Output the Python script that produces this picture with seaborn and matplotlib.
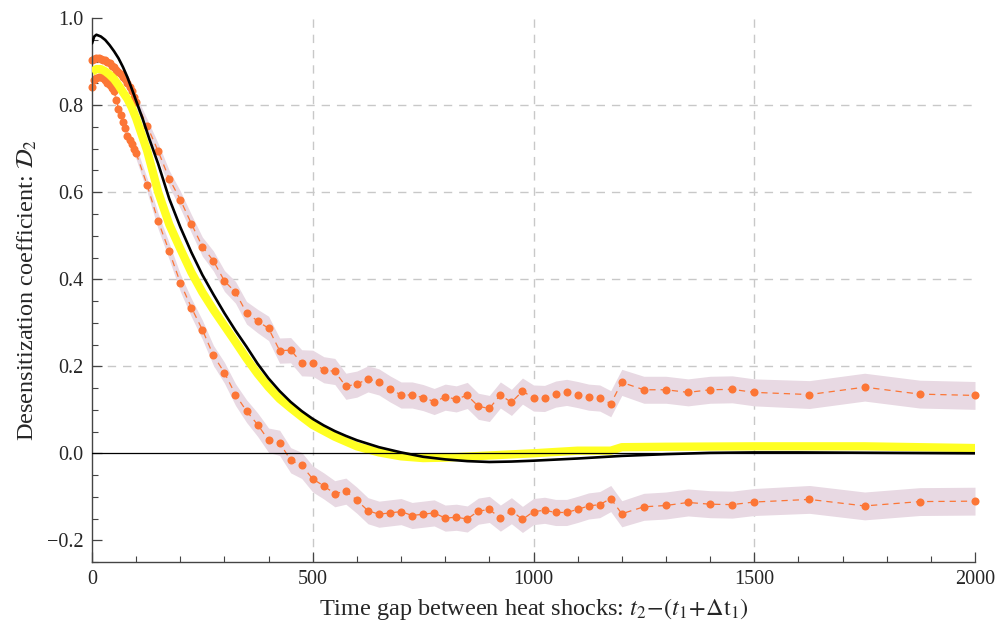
import numpy as np
import pandas as pd
import matplotlib
matplotlib.use("Agg")
import matplotlib.pyplot as plt
from matplotlib.ticker import MultipleLocator, FuncFormatter
import seaborn as sns

# ---------------- data ----------------
t_points = [0, 5, 10, 15, 20, 25, 30, 35, 40, 45, 50, 55, 60, 65, 70, 75, 80, 85, 90, 95, 100,
            125, 150, 175, 200, 225, 250, 275, 300, 325, 350, 375, 400, 425, 450, 475, 500,
            525, 550, 575, 600, 625, 650, 675, 700, 725, 750, 775, 800, 825, 850, 875, 900,
            925, 950, 975, 1000, 1025, 1050, 1075, 1100, 1125, 1150, 1175, 1200,
            1250, 1300, 1350, 1400, 1450, 1500, 1625, 1750, 1875, 2000]

upper_vals = [0.905, 0.907, 0.908, 0.908, 0.907, 0.905, 0.903, 0.900, 0.896, 0.891, 0.887,
              0.882, 0.877, 0.872, 0.866, 0.860, 0.852, 0.843, 0.832, 0.820, 0.808,
              0.752, 0.694, 0.631, 0.583, 0.528, 0.475, 0.442, 0.396, 0.370, 0.323, 0.304,
              0.287, 0.236, 0.237, 0.208, 0.207, 0.192, 0.188, 0.154, 0.159, 0.171, 0.164,
              0.148, 0.134, 0.134, 0.128, 0.119, 0.129, 0.125, 0.133, 0.108, 0.103, 0.134,
              0.117, 0.143, 0.127, 0.126, 0.136, 0.140, 0.135, 0.129, 0.127, 0.114, 0.163,
              0.146, 0.146, 0.140, 0.146, 0.147, 0.140, 0.135, 0.152, 0.136, 0.133]

lower_vals = [0.842, 0.858, 0.863, 0.865, 0.865, 0.862, 0.857, 0.852, 0.846, 0.840, 0.832,
              0.812, 0.792, 0.778, 0.762, 0.747, 0.730, 0.720, 0.712, 0.700, 0.690,
              0.616, 0.533, 0.464, 0.392, 0.335, 0.284, 0.225, 0.185, 0.135, 0.097, 0.066,
              0.030, 0.024, -0.016, -0.028, -0.059, -0.075, -0.093, -0.087, -0.108, -0.132,
              -0.140, -0.137, -0.134, -0.143, -0.140, -0.137, -0.149, -0.147, -0.151, -0.133,
              -0.129, -0.149, -0.132, -0.152, -0.134, -0.131, -0.136, -0.136, -0.129, -0.121,
              -0.118, -0.104, -0.139,
              -0.123, -0.120, -0.113, -0.117, -0.118, -0.112, -0.106, -0.121, -0.111, -0.110]

band_halfwidth = [0.006, 0.006, 0.006, 0.006, 0.007, 0.007, 0.007, 0.008, 0.008, 0.008, 0.009,
                  0.009, 0.010, 0.010, 0.011, 0.011, 0.012, 0.012, 0.013, 0.013, 0.014,
                  0.016, 0.018, 0.019, 0.020, 0.021, 0.022, 0.023, 0.024, 0.025, 0.026, 0.027,
                  0.028, 0.029, 0.029, 0.030, 0.030, 0.030, 0.030, 0.030, 0.030, 0.030, 0.030,
                  0.030, 0.030, 0.030, 0.030, 0.030, 0.030, 0.030, 0.030, 0.030, 0.030, 0.030,
                  0.030, 0.030, 0.030, 0.030, 0.030, 0.030, 0.030, 0.030, 0.030, 0.030, 0.030,
                  0.031, 0.031, 0.031, 0.031, 0.031, 0.031, 0.032, 0.032, 0.032, 0.032]

model_t = [0, 5, 10, 20, 30, 40, 50, 60, 70, 80, 90, 100, 115, 130, 150, 175, 200, 225, 250,
           275, 300, 325, 350, 375, 400, 425, 450, 475, 500, 525, 550, 575, 600, 650, 700,
           750, 800, 850, 900, 950, 1000, 1100, 1200, 1300, 1400, 1500, 1600, 1800, 2000]
model_vals = [0.942, 0.958, 0.962, 0.958, 0.950, 0.938, 0.924, 0.908, 0.888, 0.865, 0.838,
              0.810, 0.768, 0.722, 0.665, 0.585, 0.520, 0.462, 0.410, 0.365, 0.322, 0.282,
              0.245, 0.206, 0.172, 0.143, 0.118, 0.097, 0.079, 0.064, 0.051, 0.040, 0.030,
              0.014, 0.002, -0.008, -0.014, -0.018, -0.020, -0.019, -0.017, -0.012, -0.006,
              -0.002, 0.001, 0.002, 0.002, 0.001, 0.000]

fit_t = [0, 10, 20, 30, 40, 50, 60, 70, 80, 90, 100, 125, 150, 175, 200, 225, 250, 275,
         300, 325, 350, 375, 400, 425, 450, 475, 500, 550, 600, 650, 700, 750, 800, 900,
         1000, 1100, 1175, 1200, 1300, 1500, 1750, 2000]
fit_vals = [0.877, 0.883, 0.883, 0.878, 0.870, 0.860, 0.846, 0.830, 0.815, 0.795, 0.770,
            0.695, 0.600, 0.526, 0.470, 0.416, 0.370, 0.330, 0.293, 0.256, 0.218, 0.183,
            0.152, 0.125, 0.104, 0.084, 0.065, 0.038, 0.016, 0.002, -0.007, -0.011, -0.010,
            -0.005, 0.000, 0.006, 0.006, 0.014, 0.015, 0.016, 0.016, 0.012]

x_ticks = [0, 500, 1000, 1500, 2000]
y_ticks = [-0.2, 0.0, 0.2, 0.4, 0.6, 0.8, 1.0]
x_label = r"Time gap between heat shocks: $t_2\!-\!(t_1\!+\!\Delta\mathrm{t}_1)$"
y_label = r"Desensitization coefficient: $\mathcal{D}_2$"

# ---------------- styling ----------------
sns.set_theme(style="white")
plt.rcParams["font.family"] = ["Liberation Serif", "DejaVu Serif"]
plt.rcParams["mathtext.fontset"] = "stix"
plt.rcParams["axes.unicode_minus"] = True

ORANGE = "#fc7636"
BAND = "#e8d9e3"
YELLOW = "#ffff22"
GRID = "#c8c8c8"

fig = plt.figure(figsize=(10, 6.28), dpi=100)
ax = fig.add_axes([0.092, 0.105, 0.883, 0.866])
ax.set_xlim(0, 2000)
ax.set_ylim(-0.25, 1.0)

# grid lines
for gx in [500, 1000, 1500]:
    ax.axvline(gx, color=GRID, lw=1.0, ls=(0, (6, 5)), zorder=0)
for gy in [0.2, 0.4, 0.6, 0.8]:
    ax.axhline(gy, color=GRID, lw=1.0, ls=(0, (6, 5)), zorder=0)

t = np.array(t_points, dtype=float)
hw = np.array(band_halfwidth)
for vals in (upper_vals, lower_vals):
    v = np.array(vals)
    ax.fill_between(t, v - hw, v + hw, color=BAND, lw=0, zorder=1)

df_up = pd.DataFrame({"t": t_points, "v": upper_vals})
df_lo = pd.DataFrame({"t": t_points, "v": lower_vals})
for df in (df_up, df_lo):
    sns.lineplot(data=df, x="t", y="v", ax=ax, estimator=None, sort=False,
                 color=ORANGE, lw=0.9, dashes=False, linestyle=(0, (5, 4)),
                 marker="o", markersize=5.8, markeredgewidth=0,
                 markerfacecolor=ORANGE, zorder=2, clip_on=False)

df_fit = pd.DataFrame({"t": fit_t, "v": fit_vals})
sns.lineplot(data=df_fit, x="t", y="v", ax=ax, estimator=None, sort=False,
             color=YELLOW, lw=6.0, zorder=3, solid_capstyle="butt")

df_model = pd.DataFrame({"t": model_t, "v": model_vals})
sns.lineplot(data=df_model, x="t", y="v", ax=ax, estimator=None, sort=False,
             color="black", lw=1.9, zorder=4)

ax.axhline(0.0, color="black", lw=0.9, zorder=5)

# axes / ticks
for side in ("top", "right"):
    ax.spines[side].set_visible(False)
for side in ("left", "bottom"):
    ax.spines[side].set_color("#444444")
    ax.spines[side].set_linewidth(1.0)

ax.set_xticks(x_ticks)
ax.set_yticks(y_ticks)
ax.xaxis.set_minor_locator(MultipleLocator(100))
ax.yaxis.set_minor_locator(MultipleLocator(0.05))
ax.yaxis.set_major_formatter(FuncFormatter(lambda v, p: f"{v:.1f}".replace("-", "\u2212")))
ax.tick_params(which="major", direction="in", length=7, width=0.9, color="#444444",
               labelsize=14.5, pad=6)
ax.tick_params(which="minor", direction="in", length=4, width=0.8, color="#444444")
ax.tick_params(axis="both", which="both", bottom=True, left=True, top=False, right=False)

ax.set_xlabel(x_label, fontsize=17.5, labelpad=5)
ax.set_ylabel(y_label, fontsize=17.5, labelpad=6)
if ax.get_legend():
    ax.get_legend().remove()

fig.savefig("out.png", dpi=100)
